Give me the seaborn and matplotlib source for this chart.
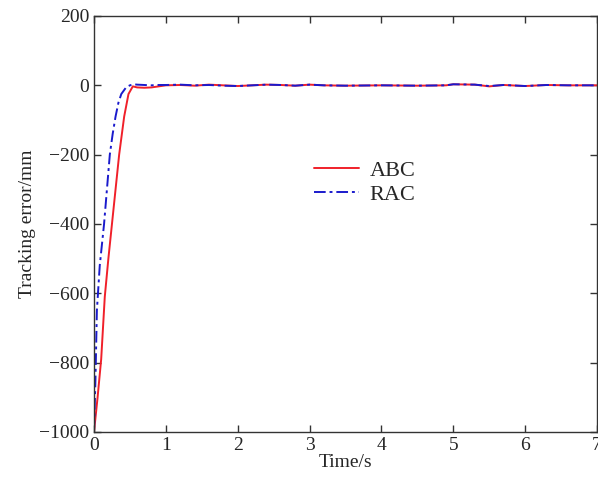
import numpy as np
import pandas as pd
import matplotlib
matplotlib.use("Agg")
import matplotlib.pyplot as plt
import seaborn as sns
from matplotlib.lines import Line2D

# ABC (red, solid)
abc_t = [0, 0.02, 0.05, 0.1, 0.15, 0.2, 0.25, 0.3, 0.35, 0.42, 0.48, 0.54, 0.6, 0.7, 0.8, 0.9,
         1.0, 1.2, 1.4, 1.6, 1.8, 2.0, 2.2, 2.4, 2.6, 2.8, 3.0, 3.2, 3.5, 4.0, 4.5, 4.9, 5.0, 5.3,
         5.5, 5.7, 6.0, 6.3, 6.6, 7.0]
abc_v = [-1000, -960, -900, -790, -610, -500, -400, -300, -200, -90, -25, -3, -6, -7, -6, -3,
         0, 1, -1, 2, 0, -2, 0, 2, 1, -1, 2, 0, -1, 0, -1, 0, 3, 2, -3, 1, -2, 1, 0, 0]
# RAC (blue, dash-dot)
rac_t = [0, 0.02, 0.04, 0.08, 0.14, 0.18, 0.22, 0.26, 0.3, 0.34, 0.38, 0.45, 0.5, 0.55, 0.6, 0.7, 0.8, 0.9,
         1.0, 1.2, 1.4, 1.6, 1.8, 2.0, 2.2, 2.4, 2.6, 2.8, 3.0, 3.2, 3.5, 4.0, 4.5, 4.9, 5.0, 5.3,
         5.5, 5.7, 6.0, 6.3, 6.6, 7.0]
rac_v = [-1000, -850, -650, -520, -400, -300, -200, -140, -90, -50, -25, -5, 0, 3, 2, 1, 0, 1,
         1, 2, 0, 1, -1, -2, 0, 2, 1, -1, 2, 0, -1, 0, -1, 0, 3, 2, -2, 1, -2, 1, 0, 0]

df = pd.concat([
    pd.DataFrame({"t": abc_t, "v": abc_v, "s": "ABC"}),
    pd.DataFrame({"t": rac_t, "v": rac_v, "s": "RAC"}),
])

sns.set_style("ticks")
plt.rcParams["font.family"] = ["Liberation Serif", "DejaVu Serif"]

RED = "#f0202a"
BLUE = "#1a1acc"

fig = plt.figure(figsize=(5.98, 4.78), dpi=100)
ax = fig.add_axes([94/598, 1 - 432/478, (597-94)/598, (432-16)/478])

sns.lineplot(data=df, x="t", y="v", hue="s", style="s",
             palette={"ABC": RED, "RAC": BLUE},
             dashes={"ABC": "", "RAC": (6, 2, 1.5, 2)},
             linewidth=1.4, ax=ax, legend=False, estimator=None, sort=False)

ax.set_xlim(0, 7)
ax.set_ylim(-1000, 200)
ax.set_xticks(range(0, 8))
ax.set_yticks(range(-1000, 201, 200))
ax.set_yticklabels(["\u22121000", "\u2212800", "\u2212600", "\u2212400", "\u2212200", "0", "200"])
ax.tick_params(direction="in", top=True, right=True, labelsize=14, length=5, width=1, color="#333333")
for sp in ax.spines.values():
    sp.set_visible(True)
    sp.set_linewidth(1.0)
    sp.set_color("#333333")
ax.set_xlabel("Time/s", fontsize=14, labelpad=0)
ax.set_ylabel("Tracking error/mm", fontsize=14, labelpad=2)

handles = [Line2D([], [], color=RED, lw=1.4),
           Line2D([], [], color=BLUE, lw=1.4, dashes=(6, 2, 1.5, 2))]
ax.legend(handles, ["ABC", "RAC"], loc="upper left", bbox_to_anchor=(0.42, 0.675),
          frameon=False, fontsize=16, handlelength=2.0, handletextpad=0.5,
          labelspacing=0.15, borderaxespad=0)

fig.savefig("out.png", dpi=100)
